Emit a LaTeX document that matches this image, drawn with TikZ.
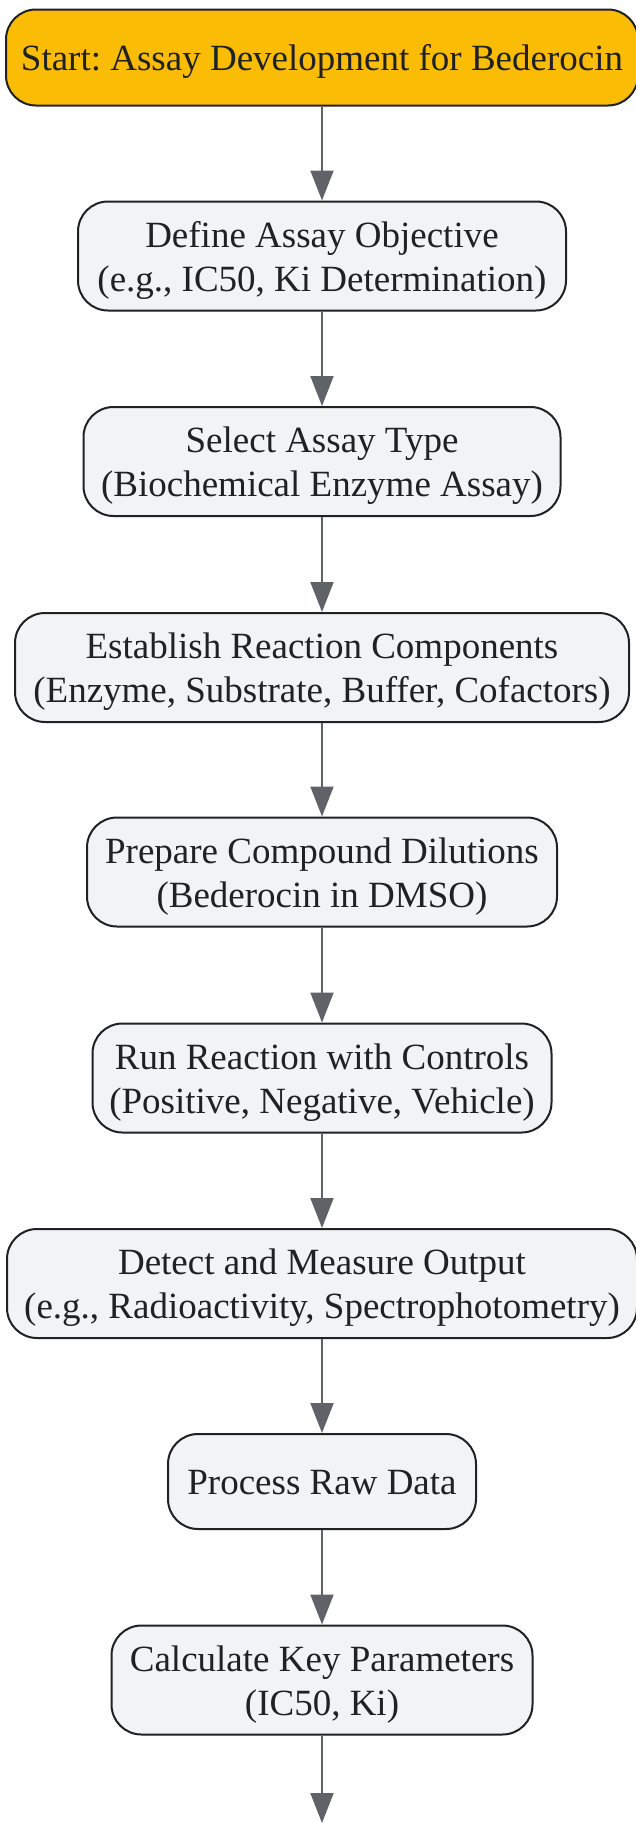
\documentclass[tikz,border=0pt]{standalone}
\usepackage{fontspec}
\setmainfont{Liberation Serif}
\usetikzlibrary{arrows.meta}
\frenchspacing
\definecolor{boxfill}{HTML}{F1F3F4}
\definecolor{startfill}{HTML}{FBBC05}
\definecolor{edgegray}{HTML}{5F6368}
\definecolor{txt}{HTML}{202124}
\definecolor{bord}{HTML}{202124}
\newcommand\twol[2]{\raisebox{8.75pt}[0pt][0pt]{\begin{tabular}[t]{@{}c@{}}#1\\#2\end{tabular}}}
\newcommand\onel[1]{\raisebox{-13.25pt}[0pt][0pt]{#1}}
\begin{document}
\begin{tikzpicture}[x=1pt,y=-1pt,
  stepbox/.style={draw=bord, line width=2pt, fill=boxfill, rounded corners=30pt,
    text=txt, font=\fontsize{37}{44}\selectfont\frenchspacing, inner sep=0pt,
    minimum height=109pt},
  startbox/.style={stepbox, fill=startfill, minimum height=96pt},
  onebox/.style={stepbox, minimum height=95pt},
  flow/.style={draw=edgegray, line width=2pt, -{Triangle[width=23pt,length=30pt]}}]
\useasboundingbox (0,0) rectangle (635,1823);
\node[startbox, minimum width=632pt] (n1) at (322,57.5) {\onel{Start: Assay Development for Bederocin}};
\node[stepbox, minimum width=488pt] (n2) at (322,256) {\twol{Define Assay Objective}{(e.g., IC50, Ki Determination)}};
\node[stepbox, minimum width=477pt] (n3) at (322,461.5) {\twol{Select Assay Type}{(Biochemical Enzyme Assay)}};
\node[stepbox, minimum width=614pt] (n4) at (322,667.5) {\twol{Establish Reaction Components}{(Enzyme, Substrate, Buffer, Cofactors)}};
\node[stepbox, minimum width=470pt] (n5) at (322,872) {\twol{Prepare Compound Dilutions}{(Bederocin in DMSO)}};
\node[stepbox, minimum width=459pt] (n6) at (322,1078) {\twol{Run Reaction with Controls}{(Positive, Negative, Vehicle)}};
\node[stepbox, minimum width=630pt] (n7) at (322,1283.5) {\twol{Detect and Measure Output}{(e.g., Radioactivity, Spectrophotometry)}};
\node[onebox, minimum width=308pt] (n8) at (322,1481.5) {\onel{Process Raw Data}};
\node[stepbox, minimum width=421pt] (n9) at (322,1680) {\twol{Calculate Key Parameters}{(IC50, Ki)}};
\coordinate (end) at (322,1823);
\draw[flow] (n1) -- (n2);
\draw[flow] (n2) -- (n3);
\draw[flow] (n3) -- (n4);
\draw[flow] (n4) -- (n5);
\draw[flow] (n5) -- (n6);
\draw[flow] (n6) -- (n7);
\draw[flow] (n7) -- (n8);
\draw[flow] (n8) -- (n9);
\draw[flow] (n9) -- (end);
\end{tikzpicture}
\end{document}
